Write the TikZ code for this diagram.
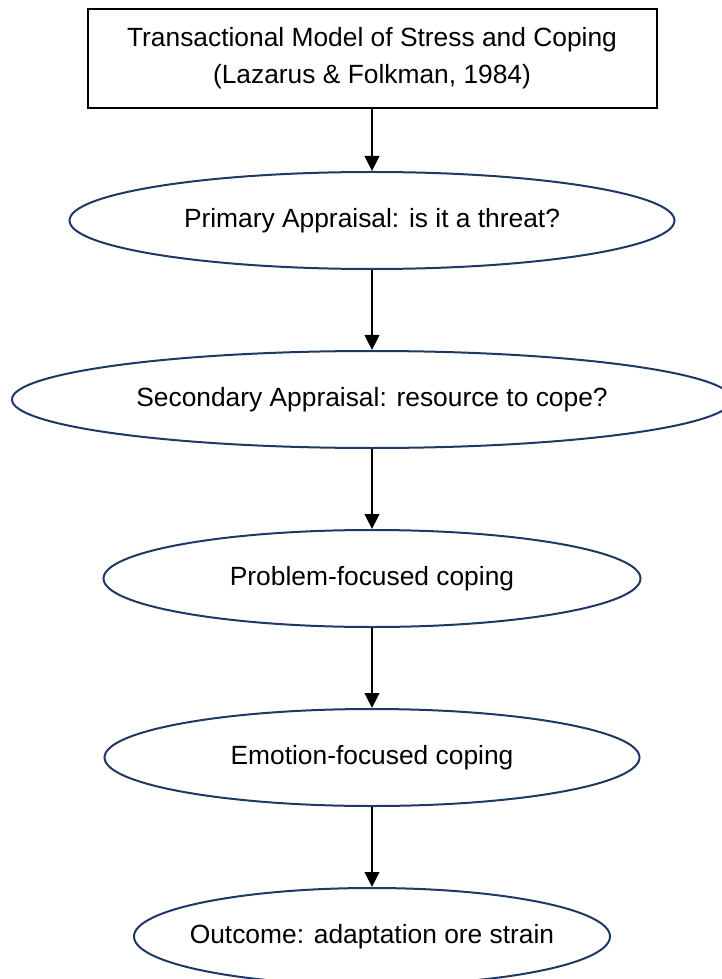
\documentclass[tikz,border=0pt]{standalone}
\usepackage{fontspec}
\setmainfont{Liberation Sans}
\usetikzlibrary{
    arrows.meta,
    positioning,
    shapes.geometric
}
\definecolor{ovalblue}{HTML}{203864}

\begin{document}
\begin{tikzpicture}[
    node distance=16mm,
    font=\fontsize{15}{21}\selectfont,
    titlebox/.style={
        draw,
        line width=0.4mm,
        align=center,
        minimum width=113.8mm,
        minimum height=19.8mm,
        inner sep=0pt
    },
    oval/.style={
        ellipse,
        draw=ovalblue,
        line width=0.4mm,
        minimum height=19.4mm,
        inner sep=0pt
    },
    flow/.style={
        -{Triangle[length=3mm,width=2.9mm]},
        line width=0.5mm
    }
]
\useasboundingbox (0,0) rectangle (144.2mm,-195.8mm);

\node[titlebox] (model) at (74.4mm,-11.7mm)
    {Transactional Model of Stress and Coping\\
    (Lazarus \& Folkman, 1984)};

\node[oval, minimum width=121mm, below=12.4mm of model] (primary)
    {Primary Appraisal: is it a threat?};

\node[oval, minimum width=144mm, below=of primary] (secondary)
    {Secondary Appraisal: resource to cope?};

\node[oval, minimum width=107.4mm, below=of secondary] (problem)
    {Problem-focused coping};

\node[oval, minimum width=107mm, below=of problem] (emotion)
    {Emotion-focused coping};

\node[oval, minimum width=95.2mm, inner xsep=-3mm, below=of emotion] (outcome)
    {Outcome: adaptation ore strain};

\draw[flow] (model) -- (primary);
\draw[flow] (primary) -- (secondary);
\draw[flow] (secondary) -- (problem);
\draw[flow] (problem) -- (emotion);
\draw[flow] (emotion) -- (outcome);

\end{tikzpicture}
\end{document}
